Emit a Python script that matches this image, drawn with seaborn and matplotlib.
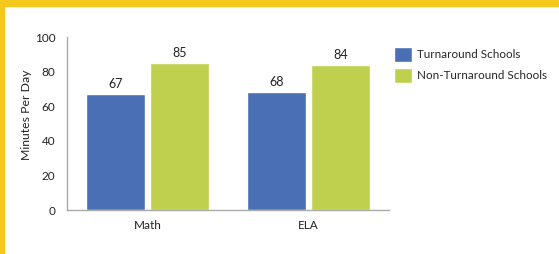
import matplotlib

matplotlib.use("Agg")
import matplotlib.pyplot as plt
import pandas as pd
import seaborn as sns
from matplotlib.patches import Rectangle

subjects = ["Math", "ELA"]
groups = ["Turnaround Schools", "Non-Turnaround Schools"]
turnaround = [67, 68]
non_turnaround = [85, 84]
y_ticks = [0, 20, 40, 60, 80, 100]

df = pd.DataFrame({
    "subject": subjects * 2,
    "group": [groups[0]] * len(subjects) + [groups[1]] * len(subjects),
    "minutes": turnaround + non_turnaround,
})

sns.set_style("white")
plt.rcParams["font.family"] = ["Lato", "DejaVu Sans"]

fig = plt.figure(figsize=(5.59, 2.54), dpi=100)
ax = fig.add_axes([0.1199, 0.1732, 0.576, 0.681])

# yellow frame on top and left
fig.patches.append(Rectangle((0, 1 - 6 / 254), 1, 6 / 254, transform=fig.transFigure,
                             color="#F5C81E", zorder=0))
fig.patches.append(Rectangle((0, 0), 4 / 559, 1, transform=fig.transFigure,
                             color="#F5C81E", zorder=0))

sns.barplot(data=df, x="subject", y="minutes", hue="group", hue_order=groups,
            palette=["#4A6FB5", "#BED04E"], width=0.8, gap=0.09,
            saturation=1, errorbar=None, ax=ax)

for cont in ax.containers:
    ax.bar_label(cont, padding=3, fontsize=9, color="#222222")

ax.set_ylim(0, 100)
ax.set_xlim(-0.5, 1.5)
ax.set_yticks(y_ticks)
ax.set_xlabel("")
ax.set_ylabel("Minutes Per Day", fontsize=8.8, color="#222222")
ax.yaxis.set_label_coords(-0.109, 0.55)
ax.tick_params(axis="y", direction="in", length=7, color="#aaaaaa", labelsize=8.5,
               labelcolor="#222222", pad=8.5)
ax.tick_params(axis="x", length=0, labelsize=8.5, labelcolor="#222222", pad=7)
sns.despine(ax=ax, top=True, right=True)
for side in ["left", "bottom"]:
    ax.spines[side].set_color("#aaaaaa")
    ax.spines[side].set_linewidth(1)

ax.legend(loc="upper left", bbox_to_anchor=(0.705, 0.815), bbox_transform=fig.transFigure,
          frameon=False, fontsize=8.4, handlelength=1.55, handleheight=1.55,
          handletextpad=0.45, labelspacing=0.55, borderpad=0, borderaxespad=0)

fig.savefig("out.png", dpi=100)
